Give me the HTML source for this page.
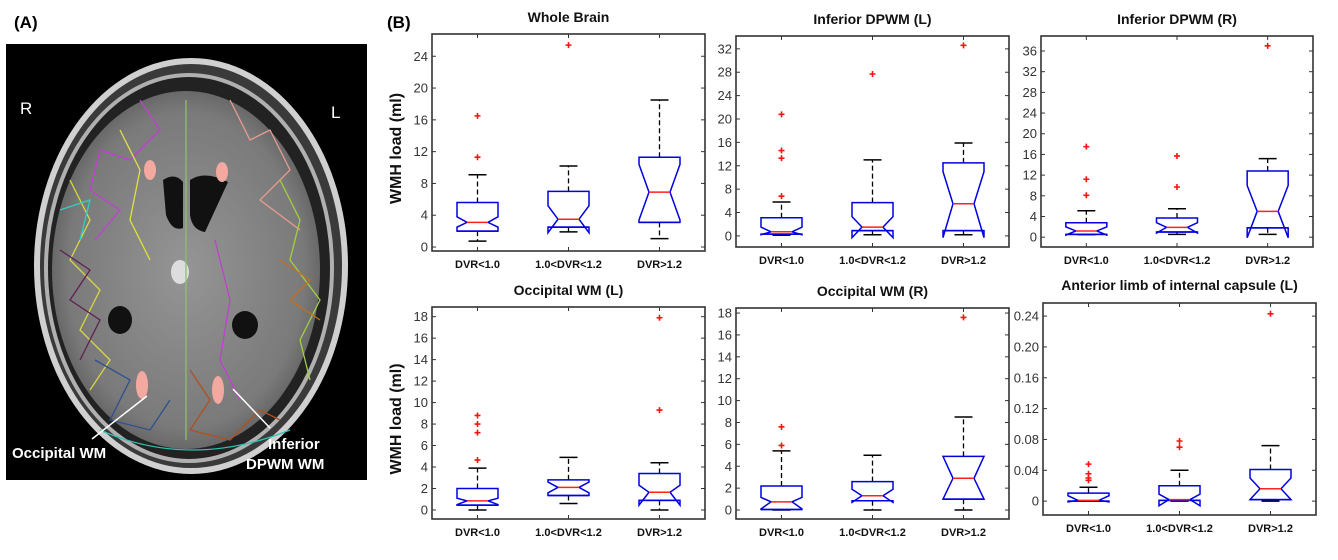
<!DOCTYPE html>
<html><head><meta charset="utf-8"><style>
html,body{margin:0;padding:0;background:#fff;}
svg{display:block;font-family:"Liberation Sans",Arial,sans-serif;}
</style></head><body>
<svg id="fig" width="1338" height="560" viewBox="0 0 1338 560" xmlns="http://www.w3.org/2000/svg">
  <text x="14" y="28" font-size="17" font-weight="bold">(A)</text>
  <text x="387" y="28" font-size="17" font-weight="bold">(B)</text>
  <g>
    <defs>
      <radialGradient id="tissue" cx="50%" cy="50%" r="55%">
        <stop offset="0" stop-color="#959595"/><stop offset="0.8" stop-color="#7a7a7a"/><stop offset="1" stop-color="#5a5a5a"/>
      </radialGradient>
    </defs>
    <rect x="6" y="44" width="361" height="436" fill="#000"/>
    <ellipse cx="191" cy="266" rx="154" ry="205" fill="#3a3a3a" stroke="#d0d0d0" stroke-width="6"/>
    <ellipse cx="189" cy="268" rx="143" ry="193" fill="#222" stroke="#b0b0b0" stroke-width="4"/>
    <ellipse cx="186" cy="270" rx="134" ry="179" fill="url(#tissue)"/>
    <path d="M163,180 Q175,172 183,182 L183,228 Q172,232 166,215 Z" fill="#111"/>
    <path d="M190,180 Q205,170 228,182 L205,232 Q192,230 190,215 Z" fill="#111"/>
    <ellipse cx="120" cy="320" rx="12" ry="14" fill="#111"/>
    <ellipse cx="245" cy="325" rx="13" ry="14" fill="#111"/>
    <ellipse cx="180" cy="272" rx="9" ry="12" fill="#ddd"/>
    <ellipse cx="150" cy="170" rx="6" ry="10" fill="#f3a9a0"/>
    <ellipse cx="222" cy="172" rx="6" ry="10" fill="#f3a9a0"/>
    <ellipse cx="142" cy="385" rx="6" ry="14" fill="#f3a9a0"/>
    <ellipse cx="218" cy="390" rx="6" ry="14" fill="#f3a9a0"/>
    <g fill="none" stroke-width="1.3">
      <path d="M140,100 L160,130 L130,160 L100,150 L90,190 L120,210 L95,240" stroke="#c040d0"/>
      <path d="M230,100 L250,140 L270,130 L290,170 L260,200 L300,230" stroke="#e89a90"/>
      <path d="M70,180 L90,220 L70,260 L100,290 L80,330 L110,360 L90,390" stroke="#d8d840"/>
      <path d="M280,180 L300,220 L290,260 L320,300 L300,340 L310,380" stroke="#a0d040"/>
      <path d="M60,250 L90,270 L70,300 L100,320 L80,360" stroke="#602050"/>
      <path d="M280,260 L310,280 L290,300 L320,320" stroke="#c07020"/>
      <path d="M95,360 L130,380 L110,420 L150,430 L170,400" stroke="#305090"/>
      <path d="M190,370 L210,400 L190,430 L230,440 L260,410 L280,420" stroke="#b05020"/>
      <path d="M215,240 L230,300 L220,360 L240,400" stroke="#c040d0"/>
      <path d="M100,430 Q190,470 290,430" stroke="#30c0b0"/>
      <path d="M120,130 L140,170 L130,220 L150,260" stroke="#e0e040"/>
      <path d="M186,100 L186,440" stroke="#90c060"/>
      <path d="M60,210 L90,200 L80,240" stroke="#30d0c0"/>
    </g>
    <text x="20" y="114" font-size="17" fill="#fff">R</text>
    <text x="331" y="118" font-size="17" fill="#fff">L</text>
    <line x1="92" y1="439" x2="147" y2="396" stroke="#fff" stroke-width="1.5"/>
    <line x1="270" y1="428" x2="233" y2="389" stroke="#fff" stroke-width="1.5"/>
    <text x="12" y="458" font-size="15" font-weight="bold" fill="#fff">Occipital WM</text>
    <text x="268" y="449" font-size="15" font-weight="bold" fill="#fff">Inferior</text>
    <text x="246" y="469" font-size="15" font-weight="bold" fill="#fff">DPWM WM</text>
  </g>
  <g id="charts"></g>
</svg>
<script>
const categories = ["DVR<1.0", "1.0<DVR<1.2", "DVR>1.2"];
const panelTitles = ["Whole Brain", "Inferior DPWM (L)", "Inferior DPWM (R)", "Occipital WM (L)", "Occipital WM (R)", "Anterior limb of internal capsule (L)"];
const panelTicks0 = [0,4,8,12,16,20,24];
const panelTicks1 = [0,4,8,12,16,20,24,28,32];
const panelTicks2 = [0,4,8,12,16,20,24,28,32,36];
const panelTicks3 = [0,2,4,6,8,10,12,14,16,18];
const panelTicks4 = [0,2,4,6,8,10,12,14,16,18];
const panelTicks5 = [0,0.04,0.08,0.12,0.16,0.20,0.24];
const tickLabels5 = ["0","0.04","0.08","0.12","0.16","0.20","0.24"];
const yRange0 = [-0.5, 26.8];
const yRange1 = [-1.9, 34.2];
const yRange2 = [-1.9, 38.9];
const yRange3 = [-0.84, 18.9];
const yRange4 = [-0.82, 18.46];
const yRange5 = [-0.018, 0.257];

const wbLo = [0.75, 1.9, 1.05];
const wbQ1 = [2.0, 2.5, 3.1];
const wbMed = [3.1, 3.5, 6.9];
const wbQ3 = [5.6, 7.0, 11.3];
const wbHi = [9.1, 10.2, 18.5];
const wbNotchLo = [2.5, 1.8, 3.4];
const wbNotchHi = [3.8, 5.2, 10.4];
const wbOut = [[11.3, 16.5], [25.4], []];

const idlLo = [0.1, 0.2, 0.2];
const idlQ1 = [0.3, 0.9, 0.9];
const idlMed = [0.7, 1.5, 5.5];
const idlQ3 = [3.1, 5.7, 12.5];
const idlHi = [5.8, 13.0, 15.9];
const idlNotchLo = [0.2, -0.3, -0.3];
const idlNotchHi = [1.5, 3.3, 11.0];
const idlOut = [[6.8, 13.3, 14.6, 20.8], [27.7], [32.6]];

const idrLo = [0.5, 0.55, 0.55];
const idrQ1 = [0.55, 1.0, 1.8];
const idrMed = [1.2, 1.9, 5.0];
const idrQ3 = [2.8, 3.7, 12.8];
const idrHi = [5.1, 5.5, 15.2];
const idrNotchLo = [0.4, 0.8, -0.1];
const idrNotchHi = [2.0, 2.8, 10.0];
const idrOut = [[8.1, 11.2, 17.5], [9.7, 15.7], [37.0]];

const olLo = [0, 0.6, 0];
const olQ1 = [0.45, 1.35, 0.9];
const olMed = [0.85, 2.1, 1.65];
const olQ3 = [2.0, 2.8, 3.4];
const olHi = [3.9, 4.9, 4.4];
const olNotchLo = [0.5, 1.6, 0.45];
const olNotchHi = [1.1, 2.6, 2.3];
const olOut = [[4.65, 7.2, 8.0, 8.8], [], [9.3, 17.9]];

const orLo = [0, 0, 0];
const orQ1 = [0.05, 0.85, 1.0];
const orMed = [0.75, 1.3, 2.9];
const orQ3 = [2.2, 2.6, 4.9];
const orHi = [5.4, 5.0, 8.5];
const orNotchLo = [0.1, 0.7, 1.0];
const orNotchHi = [1.15, 1.9, 4.9];
const orOut = [[5.9, 7.6], [], [17.6]];

const alLo = [0, 0, 0];
const alQ1 = [0, 0.001, 0.002];
const alMed = [0.001, 0.002, 0.016];
const alQ3 = [0.0104, 0.020, 0.041];
const alHi = [0.018, 0.040, 0.072];
const alNotchLo = [-0.001, -0.006, 0.002];
const alNotchHi = [0.007, 0.009, 0.030];
const alOut = [[0.027, 0.030, 0.0355, 0.048], [0.070, 0.078], [0.243]];

const NS = "http://www.w3.org/2000/svg";
const root = document.getElementById("charts");
function mk(tag, attrs, parent) {
  const e = document.createElementNS(NS, tag);
  for (const k in attrs) e.setAttribute(k, attrs[k]);
  parent.appendChild(e);
  return e;
}
const frames = [
  {x0:432,x1:705,y0:34,y1:251,ty:22},
  {x0:736,x1:1009,y0:36,y1:247,ty:24},
  {x0:1041,x1:1313,y0:36,y1:247,ty:24},
  {x0:432,x1:705,y0:307,y1:519,ty:295},
  {x0:736,x1:1009,y0:308,y1:519,ty:296},
  {x0:1043,x1:1316,y0:303,y1:515,ty:290}
];
const panels = [
  {ticks:panelTicks0, labels:null, yr:yRange0, lo:wbLo,q1:wbQ1,med:wbMed,q3:wbQ3,hi:wbHi,nlo:wbNotchLo,nhi:wbNotchHi,out:wbOut, ylab:true},
  {ticks:panelTicks1, labels:null, yr:yRange1, lo:idlLo,q1:idlQ1,med:idlMed,q3:idlQ3,hi:idlHi,nlo:idlNotchLo,nhi:idlNotchHi,out:idlOut},
  {ticks:panelTicks2, labels:null, yr:yRange2, lo:idrLo,q1:idrQ1,med:idrMed,q3:idrQ3,hi:idrHi,nlo:idrNotchLo,nhi:idrNotchHi,out:idrOut},
  {ticks:panelTicks3, labels:null, yr:yRange3, lo:olLo,q1:olQ1,med:olMed,q3:olQ3,hi:olHi,nlo:olNotchLo,nhi:olNotchHi,out:olOut, ylab:true},
  {ticks:panelTicks4, labels:null, yr:yRange4, lo:orLo,q1:orQ1,med:orMed,q3:orQ3,hi:orHi,nlo:orNotchLo,nhi:orNotchHi,out:orOut},
  {ticks:panelTicks5, labels:tickLabels5, yr:yRange5, lo:alLo,q1:alQ1,med:alMed,q3:alQ3,hi:alHi,nlo:alNotchLo,nhi:alNotchHi,out:alOut}
];
panels.forEach((p, pi) => {
  const f = frames[pi];
  const g = mk("g", {}, root);
  
  
  const X = c => f.x0 + (c + 0.5) / 3 * (f.x1 - f.x0);
  const Y = v => f.y1 - (v - p.yr[0]) / (p.yr[1] - p.yr[0]) * (f.y1 - f.y0);
  const title = mk("text", {x:(f.x0+f.x1)/2, y:f.ty, "text-anchor":"middle", "font-size":"14", "font-weight":"bold", fill:"#111"}, g);
  title.textContent = panelTitles[pi];
  
  
  const fr = mk("rect", {x:f.x0, y:f.y0, width:f.x1-f.x0, height:f.y1-f.y0, fill:"none", stroke:"#333", "stroke-width":"1.6"}, g);
  
  
  p.ticks.forEach((t, ti) => {
    const y = Y(t);
    mk("line", {x1:f.x0, x2:f.x0+4, y1:y, y2:y, stroke:"#333", "stroke-width":"1"}, g);
    mk("line", {x1:f.x1-4, x2:f.x1, y1:y, y2:y, stroke:"#333", "stroke-width":"1"}, g);
    const tl = mk("text", {x:f.x0-4, y:y+4.5, "text-anchor":"end", "font-size":"13", fill:"#333"}, g);
    tl.textContent = p.labels ? p.labels[ti] : String(t);
    
    
  });
  categories.forEach((cat, ci) => {
    const x = X(ci);
    mk("line", {x1:x, x2:x, y1:f.y0, y2:f.y0+4, stroke:"#333"}, g);
    mk("line", {x1:x, x2:x, y1:f.y1-4, y2:f.y1, stroke:"#333"}, g);
    const xl = mk("text", {x:x, y:f.y1+17, "text-anchor":"middle", "font-size":"11", "font-weight":"bold", fill:"#111"}, g);
    xl.textContent = cat;
    
    
    const bg = mk("g", {}, g);
    
    
    const w = 20.5, nw = 10.5, cw = 9;
    mk("line", {x1:x, x2:x, y1:Y(p.q3[ci]), y2:Y(p.hi[ci]), stroke:"#000", "stroke-width":"1.3", "stroke-dasharray":"5,3"}, bg);
    mk("line", {x1:x, x2:x, y1:Y(p.q1[ci]), y2:Y(p.lo[ci]), stroke:"#000", "stroke-width":"1.3", "stroke-dasharray":"5,3"}, bg);
    mk("line", {x1:x-cw, x2:x+cw, y1:Y(p.hi[ci]), y2:Y(p.hi[ci]), stroke:"#000", "stroke-width":"1.5"}, bg);
    mk("line", {x1:x-cw, x2:x+cw, y1:Y(p.lo[ci]), y2:Y(p.lo[ci]), stroke:"#000", "stroke-width":"1.5"}, bg);
    const q1 = Y(p.q1[ci]), q3 = Y(p.q3[ci]), m = Y(p.med[ci]), nl = Y(p.nlo[ci]), nh = Y(p.nhi[ci]);
    const pts = [[x-w,q3],[x+w,q3],[x+w,nh],[x+nw,m],[x+w,nl],[x+w,q1],[x-w,q1],[x-w,nl],[x-nw,m],[x-w,nh]];
    mk("polygon", {points:pts.map(a=>a.join(",")).join(" "), fill:"#fff", stroke:"#0000e0", "stroke-width":"1.5"}, bg);
    mk("line", {x1:x-w, x2:x+w, y1:q1, y2:q1, stroke:"#0000e0", "stroke-width":"1.5"}, bg);
    mk("line", {x1:x-nw, x2:x+nw, y1:m, y2:m, stroke:"#ff2020", "stroke-width":"1.5"}, bg);
    p.out[ci].forEach(v => {
      const y = Y(v);
      const o = mk("path", {d:`M${x-3},${y}H${x+3}M${x},${y-3}V${y+3}`, stroke:"#ff1010", "stroke-width":"1.6"}, bg);
      
      
    });
  });
  if (p.ylab) {
    const cy = (f.y0 + f.y1) / 2 + 6;
    const yl = mk("text", {x:401, y:cy, "text-anchor":"middle", "font-size":"16", "font-weight":"bold", fill:"#111", transform:`rotate(-90 401 ${cy})`}, g);
    yl.textContent = "WMH load (ml)";
    
    
  }
});
</script>
</body></html>
